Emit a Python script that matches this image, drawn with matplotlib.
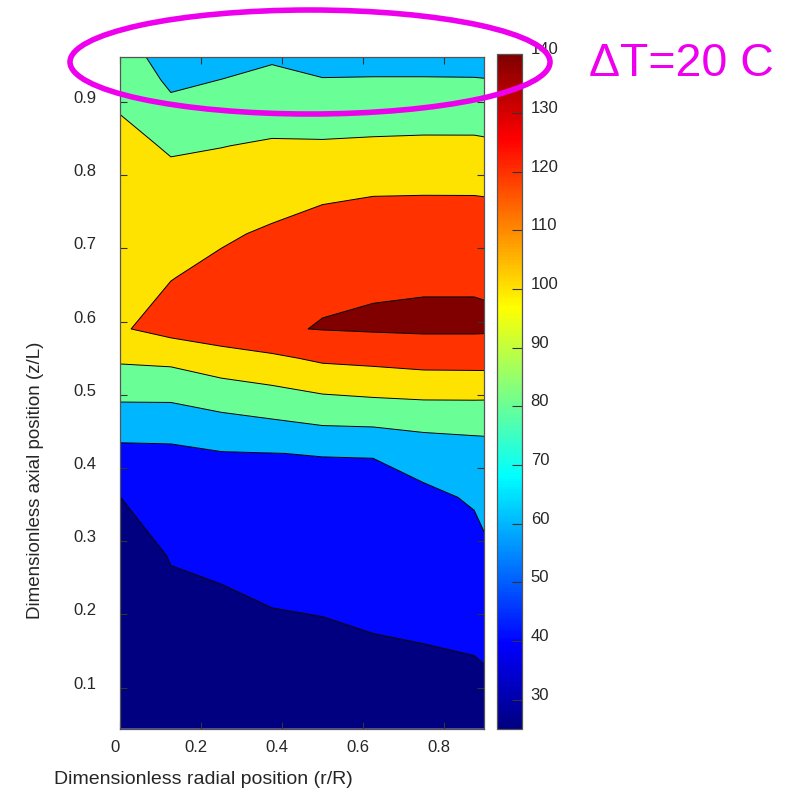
import numpy as np
import matplotlib
matplotlib.use("Agg")
import matplotlib.pyplot as plt
from matplotlib.colors import ListedColormap, Normalize
from matplotlib.cm import ScalarMappable
from matplotlib.patches import Ellipse
import matplotlib.transforms as mtransforms

# ---------------- data ----------------
r_pos = [0.0, 0.125, 0.25, 0.375, 0.5, 0.625, 0.75, 0.875, 0.9]
z_pos = [0.044, 0.13, 0.21, 0.28, 0.36, 0.42, 0.47, 0.51, 0.55,
         0.59, 0.66, 0.72, 0.78, 0.84, 0.89, 0.93, 0.961]

# temperature along z at each radial position
temp_r0000 = [27, 30.5, 33.8, 36.6, 39.9, 55.0, 72.2, 87.7, 103.0, 118.1, 113.8, 110.2, 106.5, 102.9, 99.5, 93.0, 88]
temp_r0125 = [27, 33, 38.7, 40.3, 50.5, 56.5, 70, 90.4, 104, 127, 119.5, 111.3, 103, 99, 84.3, 76.8, 72.4]
temp_r0250 = [26, 31, 36.5, 44.3, 52.7, 59.1, 77.4, 94.5, 111.7, 132, 124.7, 117.7, 108.7, 99.6, 88.8, 80.2, 74]
temp_r0375 = [25.5, 31.5, 40.1, 46.7, 54.2, 59.8, 81.3, 98.7, 116.4, 138.5, 129.8, 122.3, 112.6, 102.0, 92.2, 84.2, 78]
temp_r0500 = [25.5, 33.8, 41.2, 46, 53, 60.6, 86.1, 104.0, 123.3, 140.6, 137.8, 127.5, 116.2, 102.1, 90.2, 80.7, 74]
temp_r0625 = [25, 35.1, 44, 48.5, 52, 61, 87.3, 106.5, 125.2, 141.8, 138.2, 128.6, 118.5, 103.1, 90.7, 81, 74]
temp_r0750 = [25, 37, 45, 51.1, 56, 68, 89, 108.1, 128, 142.5, 138.5, 128.8, 118.75, 103.75, 91.1, 81, 74]
temp_r0875 = [25, 38.6, 46.7, 53.3, 61.9, 72, 88.5, 108.8, 128, 142.5, 138.5, 128.8, 118.7, 103.7, 91.1, 80.8, 74]
temp_r0900 = [25.5, 39.8, 48.3, 55.7, 66.3, 73, 88, 109, 128, 142.3, 138.2, 128.5, 118.4, 103, 90.8, 80.5, 74]

contour_levels = [40, 60, 80, 100, 120, 140]
cbar_ticks = [30, 40, 50, 60, 70, 80, 90, 100, 110, 120, 130, 140]
x_ticks = [0, 0.2, 0.4, 0.6, 0.8]
x_ticklabels = ["0", "0.2", "0.4", "0.6", "0.8"]
y_ticks = [0.1, 0.2, 0.3, 0.4, 0.5, 0.6, 0.7, 0.8, 0.9]
c_min, c_max = 25, 140

# ---------------- styling ----------------
plt.rcParams['font.family'] = ['Liberation Sans', 'DejaVu Sans']
TXT = '#262626'
MAGENTA = '#ee00ee'


def matlab_jet(v):
    v = np.asarray(v, dtype=float)
    r = np.clip(1.5 - np.abs(4 * v - 3), 0, 1)
    g = np.clip(1.5 - np.abs(4 * v - 2), 0, 1)
    b = np.clip(1.5 - np.abs(4 * v - 1), 0, 1)
    return np.stack([r, g, b], axis=-1)


jet_cmap = ListedColormap(matlab_jet(np.linspace(0, 1, 256)))

T = np.column_stack([temp_r0000, temp_r0125, temp_r0250, temp_r0375, temp_r0500,
                     temp_r0625, temp_r0750, temp_r0875, temp_r0900])
R, Z = np.meshgrid(r_pos, z_pos)

lower_bounds = [c_min] + contour_levels
band_colors = [tuple(matlab_jet((b - c_min) / (c_max - c_min))) for b in lower_bounds]
fill_levels = [min(T.min(), c_min) - 1] + contour_levels + [T.max() + 1]

W, H = 802, 794
fig = plt.figure(figsize=(W / 100, H / 100), dpi=100)

ax_l, ax_r, ax_t, ax_b = 120.3, 484.3, 57.3, 728.7
ax = fig.add_axes([ax_l / W, 1 - ax_b / H, (ax_r - ax_l) / W, (ax_b - ax_t) / H])

ax.contourf(R, Z, T, levels=fill_levels, colors=band_colors, antialiased=True)
ax.contour(R, Z, T, levels=contour_levels, colors='k', linewidths=0.7)

ax.set_xlim(0, 0.9)
ax.set_ylim(0.044, 0.961)
ax.set_xticks(x_ticks)
ax.set_xticklabels(x_ticklabels)
ax.set_yticks(y_ticks)
ax.set_yticklabels([f"{v:.1f}" for v in y_ticks])
ax.tick_params(direction='in', length=5, width=0.8, color='#333333',
               top=True, right=True, labelsize=12, labelcolor=TXT)
ax.tick_params(axis='x', pad=8)
ax.tick_params(axis='y', pad=17)
for sp in ax.spines.values():
    sp.set_color('#555555')
    sp.set_linewidth(0.9)

# colorbar
cb_l, cb_r, cb_t, cb_b = 497.3, 522.3, 54.3, 729.0
cax = fig.add_axes([cb_l / W, 1 - cb_b / H, (cb_r - cb_l) / W, (cb_b - cb_t) / H])
sm = ScalarMappable(norm=Normalize(c_min, c_max), cmap=jet_cmap)
cb = fig.colorbar(sm, cax=cax, ticks=cbar_ticks)
cax.tick_params(direction='in', length=7, width=0.8, color='#333333',
                labelsize=12, labelcolor=TXT, pad=6)
cb.outline.set_edgecolor('#555555')
cb.outline.set_linewidth(0.9)

# small offsets of tick labels as in the original rendering
for lbl in ax.get_yticklabels():
    lbl.set_transform(lbl.get_transform() + mtransforms.ScaledTranslation(0, 0.05, fig.dpi_scale_trans))
for lbl in ax.get_xticklabels():
    lbl.set_transform(lbl.get_transform() + mtransforms.ScaledTranslation(-0.05, 0, fig.dpi_scale_trans))
for lbl in cax.get_yticklabels():
    lbl.set_transform(lbl.get_transform() + mtransforms.ScaledTranslation(0, 0.06, fig.dpi_scale_trans))

# axis labels
fig.text(203 / W, 1 - 780 / H, "Dimensionless radial position (r/R)",
         ha='center', va='center', fontsize=14, color=TXT)
fig.text(36 / W, 1 - 480 / H, "Dimensionless axial position (z/L)",
         ha='center', va='center', rotation=90, fontsize=13.5, color=TXT)

# annotation
ell = Ellipse((310 / W, 1 - 62 / H), 480 / W, 104 / H, transform=fig.transFigure,
              fill=False, edgecolor=MAGENTA, linewidth=4, zorder=20)
fig.add_artist(ell)
fig.text(589 / W, 1 - 64 / H, "\u0394T=20 C", ha='left', va='center',
         fontsize=33.5, color=MAGENTA, zorder=21)

fig.savefig("out.png", dpi=100)
